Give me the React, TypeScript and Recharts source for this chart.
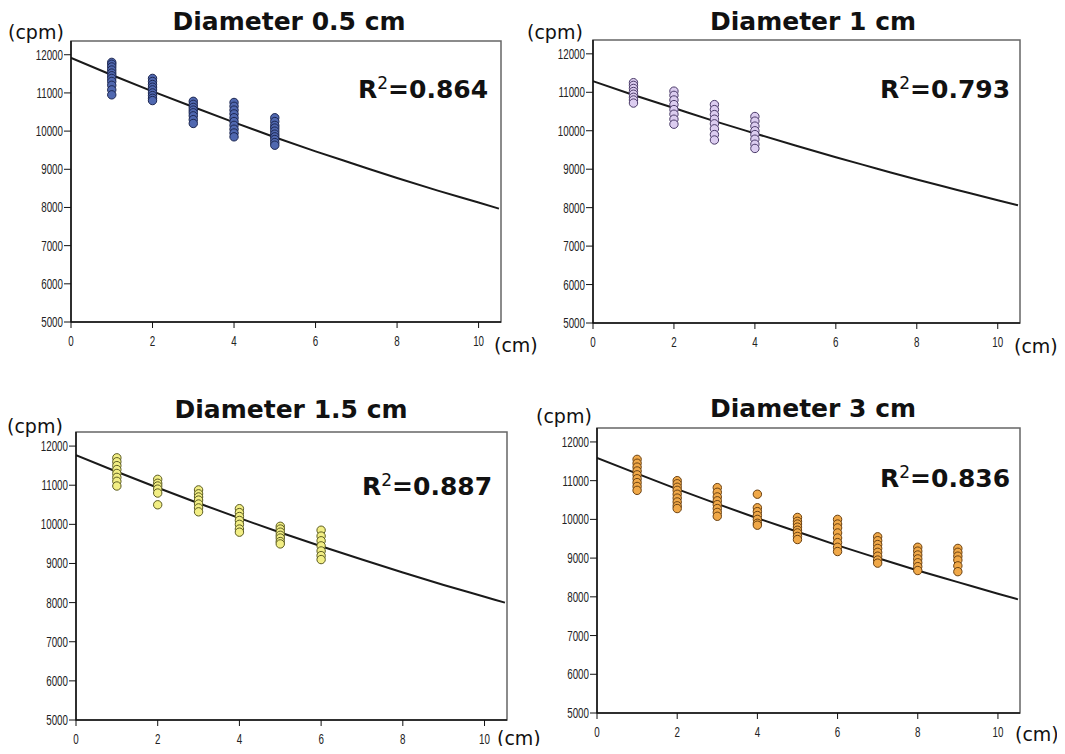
import { FC } from 'react';

import { ComposedChart, Line, ReferenceArea, Scatter, XAxis, YAxis } from 'recharts';

// distances (cm) and counts (cpm), one list per column
const dist05 = [1, 2, 3, 4, 5];
const cpm05 = [
  [11800, 11750, 11680, 11600, 11520, 11450, 11380, 11300, 11200, 11080, 10950],
  [11380, 11300, 11220, 11150, 11080, 11000, 10930, 10860, 10800],
  [10780, 10700, 10620, 10550, 10480, 10400, 10300, 10200],
  [10750, 10650, 10550, 10450, 10350, 10250, 10150, 10050, 9950, 9850],
  [10350, 10250, 10150, 10080, 10000, 9920, 9850, 9780, 9700, 9630],
];

const dist1 = [1, 2, 3, 4];
const cpm1 = [
  [11250, 11180, 11100, 11020, 10950, 10870, 10800, 10720],
  [11030, 10920, 10800, 10680, 10550, 10430, 10300, 10170],
  [10680, 10550, 10420, 10300, 10180, 10050, 9900, 9760],
  [10370, 10250, 10120, 10000, 9900, 9780, 9650, 9540],
];

const dist15 = [1, 2, 3, 4, 5, 6];
const cpm15 = [
  [11700, 11600, 11500, 11400, 11300, 11200, 11100, 10980],
  [11150, 11050, 10980, 10900, 10800, 10500],
  [10880, 10780, 10700, 10620, 10520, 10420, 10320],
  [10400, 10300, 10200, 10100, 10000, 9880, 9800],
  [9950, 9880, 9800, 9720, 9650, 9560, 9500],
  [9850, 9700, 9580, 9450, 9320, 9200, 9100],
];

const dist3 = [1, 2, 3, 4, 5, 6, 7, 8, 9];
const cpm3 = [
  [11550, 11450, 11350, 11250, 11150, 11050, 10950, 10850, 10750],
  [11000, 10920, 10830, 10750, 10650, 10550, 10450, 10350, 10280],
  [10820, 10700, 10580, 10480, 10380, 10280, 10180, 10080],
  [10650, 10300, 10200, 10100, 10000, 9900, 9850],
  [10050, 9950, 9880, 9800, 9720, 9650, 9560, 9480],
  [10000, 9880, 9780, 9650, 9520, 9400, 9280, 9170],
  [9550, 9450, 9350, 9250, 9150, 9050, 8950, 8870],
  [9280, 9180, 9080, 8980, 8880, 8780, 8680],
  [9250, 9150, 9050, 8950, 8800, 8650],
];

// fitted curves, read at these distances
const fitX = [0, 1, 2, 3, 4, 5, 6, 7, 8, 9, 10, 10.5];
const fit05 = [11920, 11470, 11040, 10630, 10230, 9840, 9470, 9120, 8770, 8440, 8130, 7970];
const fit1 = [11290, 10930, 10590, 10250, 9930, 9615, 9310, 9020, 8730, 8460, 8190, 8060];
const fit15 = [11770, 11345, 10935, 10540, 10160, 9790, 9440, 9100, 8770, 8450, 8150, 8000];
const fit3 = [11590, 11180, 10780, 10400, 10030, 9680, 9330, 9000, 8680, 8380, 8080, 7935];

const yTicks = [5000, 6000, 7000, 8000, 9000, 10000, 11000, 12000];
const xTicks = [0, 2, 4, 6, 8, 10];

const titles = ['Diameter 0.5 cm', 'Diameter 1 cm', 'Diameter 1.5 cm', 'Diameter 3 cm'];
const rSquared = ['0.864', '0.793', '0.887', '0.836'];

const toPoints = (dist: number[], cpm: number[][]) =>
  dist.flatMap((x, i) => cpm[i].map(y => ({ x, y })));
const toFit = (ys: number[]) => fitX.map((x, i) => ({ x, y: ys[i] }));

// narrow tick labels, like the original plot's condensed font
const XTick = (p: any) => (
  <text
    transform={`translate(${p.x},${p.y}) scale(0.7,1)`}
    dy="0.71em"
    textAnchor="middle"
    fontSize={14}
    fontFamily='"Liberation Sans", sans-serif'
    fill="#222"
  >
    {p.payload.value}
  </text>
);
const YTick = (p: any) => (
  <text
    transform={`translate(${p.x},${p.y}) scale(0.7,1)`}
    dy="0.355em"
    textAnchor="end"
    fontSize={14}
    fontFamily='"Liberation Sans", sans-serif'
    fill="#222"
  >
    {p.payload.value}
  </text>
);

interface PanelProps {
  box: { cx: number; cy: number; w: number; h: number; pl: number; pt: number; pr: number; pb: number };
  points: { x: number; y: number }[];
  fit: { x: number; y: number }[];
  fill: string;
  stroke: string;
}

const Panel: FC<PanelProps> = ({ box, points, fit, fill, stroke }) => {
  const margin = {
    top: box.pt - box.cy,
    left: box.pl - box.cx - 50,
    right: box.cx + box.w - box.pr,
    bottom: box.cy + box.h - box.pb - 30,
  };
  return (
    <div style={{ position: 'absolute', left: box.cx, top: box.cy }}>
      <ComposedChart width={box.w} height={box.h} margin={margin}>
        <XAxis
          type="number"
          dataKey="x"
          domain={[0, 10.55]}
          ticks={xTicks}
          allowDataOverflow
          height={30}
          tickSize={6}
          tickMargin={8}
          tick={<XTick />}
          axisLine={{ stroke: '#111', strokeWidth: 1.5 }}
          tickLine={{ stroke: '#111' }}
        />
        <YAxis
          type="number"
          dataKey="y"
          domain={[5000, 12360]}
          ticks={yTicks}
          allowDataOverflow
          width={50}
          tickSize={7}
          tickMargin={1}
          tick={<YTick />}
          axisLine={{ stroke: '#111', strokeWidth: 1.5 }}
          tickLine={{ stroke: '#111' }}
        />
        <ReferenceArea x1={0} x2={10.55} y1={5000} y2={12360} fill="none" stroke="#666" strokeWidth={1.5} ifOverflow="visible" />
        <Scatter
          data={points}
          isAnimationActive={false}
          shape={(p: any) => <circle cx={p.cx} cy={p.cy} r={4.2} fill={fill} stroke={stroke} strokeWidth={1} />}
        />
        <Line data={fit} dataKey="y" type="monotone" stroke="#1a1a1a" strokeWidth={2} dot={false} isAnimationActive={false} />
      </ComposedChart>
    </div>
  );
};

const boxes = [
  { cx: 0, cy: 0, w: 530, h: 375, pl: 71, pt: 41, pr: 501, pb: 322 },
  { cx: 525, cy: 0, w: 540, h: 375, pl: 593, pt: 40, pr: 1020, pb: 323 },
  { cx: 0, cy: 380, w: 530, h: 374, pl: 76, pt: 432, pr: 507, pb: 720 },
  { cx: 525, cy: 380, w: 540, h: 374, pl: 597, pt: 428, pr: 1020, pb: 713 },
];

const labels = [
  { tx: 289, ty: 30, cpmX: 8, cpmY: 39, cmX: 494, cmY: 352, rX: 358, rY: 98 },
  { tx: 813, ty: 30, cpmX: 527, cpmY: 39, cmX: 1014, cmY: 353, rX: 880, rY: 98 },
  { tx: 291, ty: 418, cpmX: 7, cpmY: 433, cmX: 497, cmY: 745, rX: 362, rY: 495 },
  { tx: 813, ty: 417, cpmX: 536, cpmY: 423, cmX: 1015, cmY: 741, rX: 880, rY: 487 },
];

const App: FC = () => {
  const series = [
    { points: toPoints(dist05, cpm05), fit: toFit(fit05), fill: '#5068b0', stroke: '#1c2650' },
    { points: toPoints(dist1, cpm1), fit: toFit(fit1), fill: '#dccdf0', stroke: '#4a3a68' },
    { points: toPoints(dist15, cpm15), fit: toFit(fit15), fill: '#f2ee84', stroke: '#5a5a20' },
    { points: toPoints(dist3, cpm3), fit: toFit(fit3), fill: '#f0a848', stroke: '#6a4010' },
  ];
  return (
    <div style={{ position: 'relative', width: 1065, height: 754, margin: -8, background: '#fff', overflow: 'hidden' }}>
      {series.map((s, i) => (
        <Panel key={i} box={boxes[i]} {...s} />
      ))}
      <svg width={1065} height={754} style={{ position: 'absolute', left: 0, top: 0, pointerEvents: 'none' }}>
        {labels.map((l, i) => (
          <g key={i} fontFamily='"DejaVu Sans", sans-serif' fill="#111">
            <text x={l.tx} y={l.ty} textAnchor="middle" fontSize={25} fontWeight="bold">
              {titles[i]}
            </text>
            <text x={l.cpmX} y={l.cpmY} fontSize={19}>
              (cpm)
            </text>
            <text x={l.cmX} y={l.cmY} fontSize={19}>
              (cm)
            </text>
            <text x={l.rX} y={l.rY} fontSize={25} fontWeight="bold">
              R<tspan fontSize={17} fontWeight="normal" dy={-9}>2</tspan>
              <tspan dy={9}>=</tspan>
              {rSquared[i]}
            </text>
          </g>
        ))}
      </svg>
    </div>
  );
};

export default App;
